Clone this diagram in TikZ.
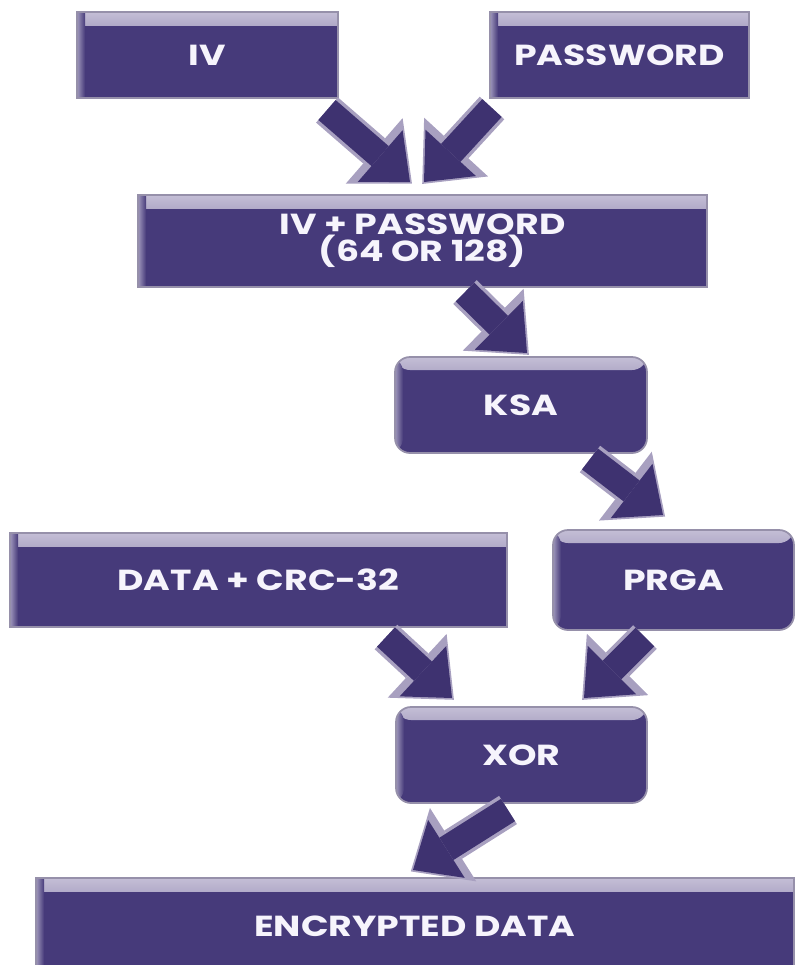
\documentclass[tikz,border=0pt]{standalone}
\usepackage{fontspec}
\setmainfont{Poppins}[FakeStretch=1.25]
\usepackage{tikz}
\usetikzlibrary{
  arrows.meta,
  calc
}
\definecolor{boxfill}{RGB}{70, 58, 122}
\definecolor{boxrim}{RGB}{196, 190, 214}
\definecolor{boxedge}{RGB}{150, 144, 170}
\definecolor{boxtext}{RGB}{246, 244, 252}
\definecolor{arrowfill}{RGB}{62, 50, 112}
\definecolor{arrowrim}{RGB}{168, 160, 192}
\tikzset{
  % Bloklar
  stepbox/.style  = {rectangle, fill=boxfill, draw=boxedge, line width=1pt,
                     text=boxtext, font=\bfseries\fontsize{16.5}{15.5}\selectfont,
                     align=center, inner sep=0pt,
                     path picture={
                       \shade[top color=boxrim, bottom color=boxfill]
                         (path picture bounding box.north west) rectangle
                         ([yshift=-0.26cm]path picture bounding box.north east);
                       \shade[left color=boxrim!70!boxfill, right color=boxfill]
                         (path picture bounding box.north west) rectangle
                         ([xshift=0.16cm]path picture bounding box.south west);}},
  roundbox/.style = {stepbox, rounded corners=0.3cm},
  % Strelkalar
  flowrim/.style  = {line width=19pt, draw=arrowrim, shorten >=-1.5pt,
                     -{Triangle[length=0pt 1.5, width=0pt 2.6, line width=0pt]}},
  flowbody/.style = {line width=15pt, draw=arrowfill,
                     -{Triangle[length=0pt 1.5, width=0pt 2.6, line width=0pt]}},
}
\begin{document}
\begin{tikzpicture}[x=0.02cm, y=-0.02cm]
  \useasboundingbox (0,0) rectangle (795,965);
  \clip (0,0) rectangle (795,965);
  % Kirish bloklari
  \node[stepbox, minimum width=5.22cm, minimum height=1.72cm] (iv) at (207.5,55) {IV};
  \node[stepbox, minimum width=5.18cm, minimum height=1.72cm] (pw) at (619.5,55) {PASSWORD};
  \node[stepbox, minimum width=11.38cm, minimum height=1.84cm] (ivpw) at (422.5,241)
    {IV + PASSWORD\\(64 OR 128)};
  \node[roundbox, minimum width=5.04cm, minimum height=1.92cm] (ksa) at (521,405) {KSA};
  \node[stepbox, minimum width=9.94cm, minimum height=1.88cm] (data) at (258.5,580)
    {DATA + CRC-32};
  \node[roundbox, minimum width=4.82cm, minimum height=2.0cm] (prga) at (673.5,580) {PRGA};
  \node[roundbox, minimum width=5.02cm, minimum height=1.92cm] (xor) at (521.5,755) {XOR};
  \node[stepbox, minimum width=15.16cm, minimum height=1.94cm] (enc) at (415,926.5)
    {ENCRYPTED DATA};
  % Strelka uchlari
  \coordinate (a1s) at (327,110);  \coordinate (a1e) at (410,182);
  \coordinate (a2s) at (492,108);  \coordinate (a2e) at (424,182);
  \coordinate (a3s) at (465,292);  \coordinate (a3e) at (527,353);
  \coordinate (a4s) at (590,459);  \coordinate (a4e) at (663,515);
  \coordinate (a5s) at (386,637);  \coordinate (a5e) at (452,698);
  \coordinate (a6s) at (645,637);  \coordinate (a6e) at (584,698);
  \coordinate (a7s) at (508,810);  \coordinate (a7e) at (413,870);
  \foreach \i in {1,...,7} {
    \draw[flowrim]  (a\i s) -- (a\i e);
    \draw[flowbody] (a\i s) -- (a\i e);
  }
\end{tikzpicture}
\end{document}
